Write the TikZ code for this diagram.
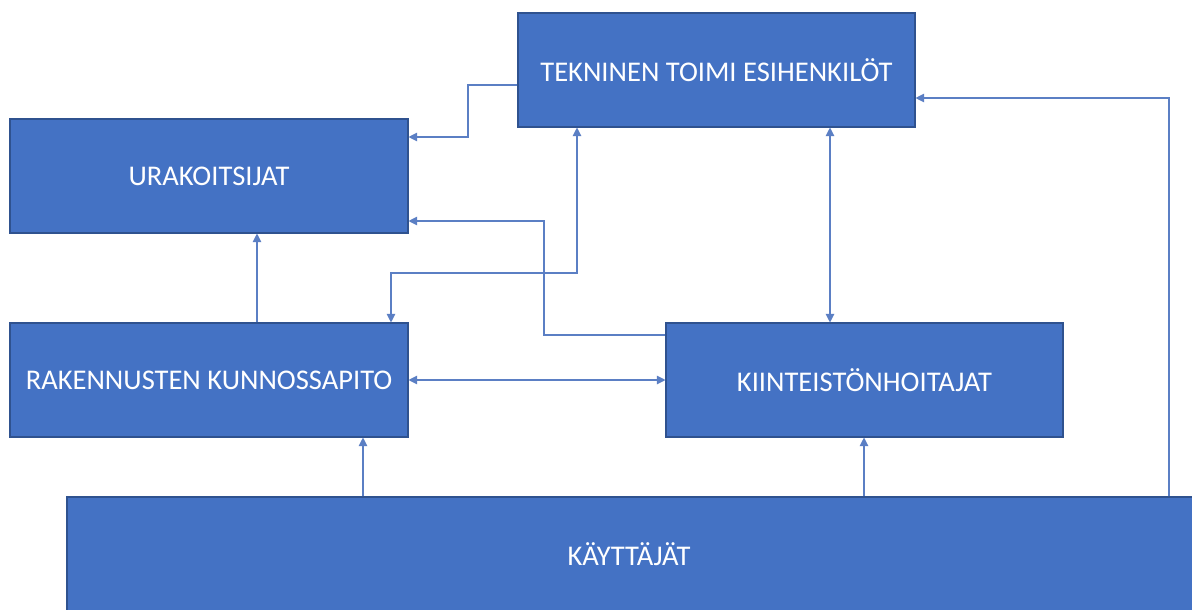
\documentclass[tikz,border=0pt]{standalone}
\usepackage{fontspec}
\setmainfont{Carlito}
\usetikzlibrary{arrows.meta}
\definecolor{boxfill}{HTML}{4472C4}
\definecolor{boxline}{HTML}{2F528F}
\definecolor{linkcol}{HTML}{5B7FC4}
\begin{document}
\begin{tikzpicture}[x=0.75pt,y=-0.75pt,
  box/.style={draw=boxline,line width=0.8pt,fill=boxfill,text=white,
    font=\fontsize{21.4}{24}\selectfont,inner sep=0pt,
    minimum width=#1*0.75pt,minimum height=114*0.75pt},
  link/.style={draw=linkcol,line width=0.8pt,-{Triangle[length=6.5pt,width=6.5pt]}},
  link2/.style={draw=linkcol,line width=0.8pt,{Triangle[length=6.5pt,width=6.5pt]}-{Triangle[length=6.5pt,width=6.5pt]}}]
\clip (0,0) rectangle (1192,610);
\fill[white] (0,0) rectangle (1192,610);

\node[box=397] (tek)  at (716.5,70)  {TEKNINEN TOIMI ESIHENKILÖT};
\node[box=398] (urak) at (209,176)   {URAKOITSIJAT};
\node[box=398] (rak)  at (209,380)   {RAKENNUSTEN KUNNOSSAPITO};
\node[box=397] (kiin) at (864.5,380) {KIINTEISTÖNHOITAJAT};
\node[box=1132] (kay) at (633,554)   {};
\node[text=white,font=\fontsize{21.4}{24}\selectfont] (kaytxt) at (629,554) {KÄYTTÄJÄT};

% connectors
\draw[link] (tek.west |- 0,85) -| (468,137) -- (urak.east |- 0,137);
\draw[link] (kiin.west |- 0,335) -| (544,221) -- (urak.east |- 0,221);
\draw[link] (rak.north -| 257,0) -- (urak.south -| 257,0);
\draw[link2] (tek.south -| 577,0) -- (577,273) -| (rak.north -| 391,0);
\draw[link2] (tek.south -| 830,0) -- (kiin.north -| 830,0);
\draw[link2] (rak.east |- 0,380) -- (kiin.west |- 0,380);
\draw[link] (kay.north -| 363,0) -- (rak.south -| 363,0);
\draw[link] (kay.north -| 864,0) -- (kiin.south -| 864,0);
\draw[link] (kay.north -| 1169,0) |- (tek.east |- 0,98);
\end{tikzpicture}
\end{document}
